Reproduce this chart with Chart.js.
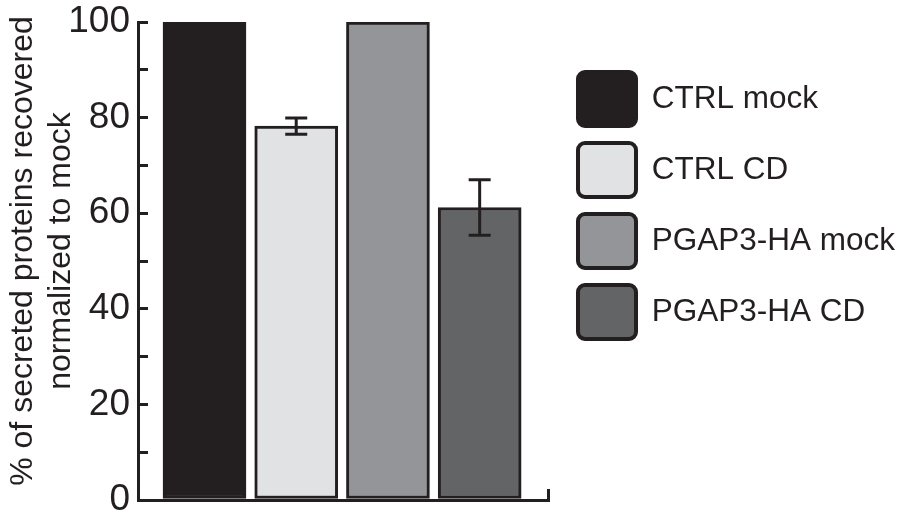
<!DOCTYPE html>
<html>
<head>
<meta charset="utf-8">
<script src="https://cdn.jsdelivr.net/npm/chart.js@4.4.1/dist/chart.umd.min.js"></script>
<style>
  html, body { margin: 0; padding: 0; background: #fff; }
  canvas { display: block; }
</style>
</head>
<body>
<canvas id="chart" width="899" height="515"></canvas>
<script>
// values
const groups = ['CTRL mock', 'CTRL CD', 'PGAP3-HA mock', 'PGAP3-HA CD'];
const positions = [1, 2, 3, 4];
const recovered = [100, 78.2, 100, 61.2];
const errors = [0, 1.7, 0, 5.8];
const yTickLabels = [0, 20, 40, 60, 80, 100];
const yTitle = ['% of secreted proteins recovered', 'normalized to mock'];

const ink = '#231f20';
const barColors = ['#231f20', '#e1e2e4', '#939598', '#636466'];
const fontFamily = '"Liberation Sans", Arial, sans-serif';

Chart.defaults.font.family = fontFamily;
Chart.defaults.color = ink;

// error bars drawn on top of the bars
const errorBars = {
    id: 'errorBars',
    afterDatasetsDraw(chart) {
        const ctx = chart.ctx;
        const yScale = chart.scales.y;
        const meta = chart.getDatasetMeta(0);
        ctx.save();
        ctx.strokeStyle = ink;
        ctx.lineWidth = 3;
        meta.data.forEach((bar, i) => {
            if (!errors[i]) return;
            const top = yScale.getPixelForValue(recovered[i] + errors[i]);
            const bottom = yScale.getPixelForValue(recovered[i] - errors[i]);
            ctx.beginPath();
            ctx.moveTo(bar.x, top);
            ctx.lineTo(bar.x, bottom);
            ctx.moveTo(bar.x - 11, top);
            ctx.lineTo(bar.x + 11, top);
            ctx.moveTo(bar.x - 11, bottom);
            ctx.lineTo(bar.x + 11, bottom);
            ctx.stroke();
        });
        ctx.restore();
    }
};

// two-line rotated y title, sits a bit above the axis middle like the original
const yAxisTitle = {
    id: 'yAxisTitle',
    afterDraw(chart) {
        const { ctx, chartArea } = chart;
        ctx.save();
        ctx.translate(0, (chartArea.top + chartArea.bottom) / 2 - 10);
        ctx.rotate(-Math.PI / 2);
        ctx.font = '32px ' + fontFamily;
        ctx.fillStyle = ink;
        ctx.textAlign = 'center';
        ctx.textBaseline = 'middle';
        yTitle.forEach((line, i) => ctx.fillText(line, 0, 23 + i * 38));
        ctx.restore();
    }
};

new Chart(document.getElementById('chart'), {
    type: 'bar',
    data: {
        datasets: [{
            label: 'recovered',
            data: positions.map((x, i) => ({ x: x, y: recovered[i] })),
            backgroundColor: barColors,
            borderColor: ink,
            borderWidth: 3,
            borderSkipped: false,
            barThickness: 83
        }]
    },
    options: {
        responsive: false,
        animation: false,
        layout: { padding: { top: -104, right: 0, bottom: 0, left: 0 } },
        plugins: {
            tooltip: { enabled: false },
            legend: {
                position: 'right',
                align: 'center',
                maxWidth: 338,
                labels: {
                    boxWidth: 58,
                    boxHeight: 54,
                    padding: 17,
                    font: { size: 31.5 },
                    color: ink,
                    generateLabels: () => groups.map((g, i) => ({
                        text: g,
                        fillStyle: barColors[i],
                        strokeStyle: ink,
                        lineWidth: 4,
                        borderRadius: 7,
                        fontColor: ink,
                        hidden: false,
                        index: i,
                        datasetIndex: 0
                    }))
                }
            }
        },
        scales: {
            x: {
                type: 'linear',
                position: 'bottom',
                min: 0.275,
                max: 4.745,
                offset: false,
                grid: { display: true, offset: false, drawOnChartArea: false, tickLength: -11, color: ink, lineWidth: 3 },
                border: { display: true, color: ink, width: 3 },
                ticks: { display: false },
                afterBuildTicks: scale => { scale.ticks = [{ value: scale.max }]; },
                afterFit: scale => {
                    scale.height = 15;
                    scale.paddingLeft = 0;
                    scale.paddingRight = 0;
                }
            },
            y: {
                type: 'linear',
                min: 0,
                max: 100,
                grid: { drawOnChartArea: false, tickLength: -10, color: ink, lineWidth: 3 },
                border: { display: true, color: ink, width: 3 },
                ticks: {
                    stepSize: 10,
                    autoSkip: false,
                    padding: 18,
                    font: { size: 37 },
                    color: ink,
                    callback: v => yTickLabels.includes(v) ? v : ''
                },
                title: { display: false },
                afterFit: scale => {
                    scale.width = 138;
                    scale.paddingTop = 22;
                    scale.paddingBottom = 0;
                }
            },
            gap: {
                type: 'linear',
                position: 'right',
                grid: { display: false },
                border: { display: false },
                ticks: { display: false },
                afterFit: scale => {
                    scale.width = 13;
                    scale.paddingTop = 0;
                    scale.paddingBottom = 0;
                }
            }
        }
    },
    plugins: [errorBars, yAxisTitle]
});
</script>
</body>
</html>
